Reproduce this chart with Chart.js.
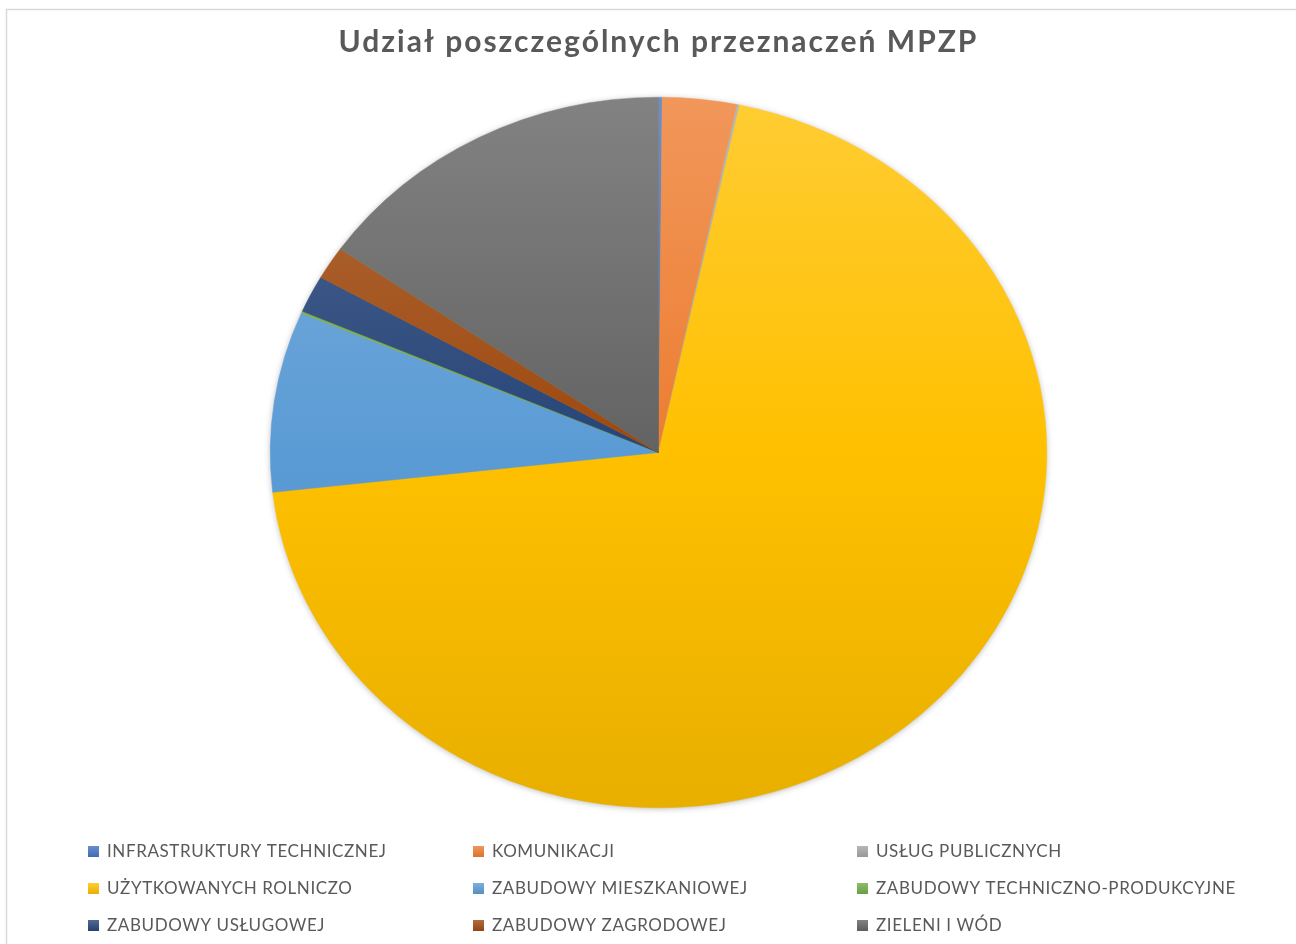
<!DOCTYPE html>
<html>
<head>
<meta charset="utf-8">
<script src="https://cdn.jsdelivr.net/npm/chart.js@4.4.1/dist/chart.umd.min.js"></script>
<style>
  html, body { margin: 0; padding: 0; background: #fff; }
  #wrap { width: 1296px; height: 944px; position: relative; }
</style>
</head>
<body>
<div id="wrap"><canvas id="mpzpChart" width="1296" height="944"></canvas></div>
<script>
// dane (udział w %)
const kategorie = [
    'INFRASTRUKTURY TECHNICZNEJ', 'KOMUNIKACJI', 'USŁUG PUBLICZNYCH',
    'UŻYTKOWANYCH ROLNICZO', 'ZABUDOWY MIESZKANIOWEJ', 'ZABUDOWY TECHNICZNO-PRODUKCYJNE',
    'ZABUDOWY USŁUGOWEJ', 'ZABUDOWY ZAGRODOWEJ', 'ZIELENI I WÓD'
];
const udzialy = [0.15, 3.1, 0.1, 69.9, 8.2, 0.1, 1.7, 1.5, 15.3];
const kolory = ['#4472C4', '#ED7D31', '#A5A5A5', '#FFC000', '#5B9BD5', '#70AD47', '#264478', '#9E480E', '#636363'];

const tytul = 'Udział poszczególnych przeznaczeń MPZP';
const splaszczenie = 355.5 / 388.5; // Excel rysuje elipsę

function mix(hex, target, t) {
    const n = parseInt(hex.slice(1), 16);
    const r = (n >> 16) & 255, g = (n >> 8) & 255, b = n & 255;
    const m = c => Math.round(c + (target - c) * t);
    return `rgb(${m(r)},${m(g)},${m(b)})`;
}

function gradient(context) {
    const chart = context.chart;
    const area = chart.chartArea;
    if (!area) return kolory[context.dataIndex];
    const base = kolory[context.dataIndex];
    const g = chart.ctx.createLinearGradient(0, area.top, 0, area.bottom);
    g.addColorStop(0, mix(base, 255, 0.2));
    g.addColorStop(0.5, base);
    g.addColorStop(1, mix(base, 0, 0.09));
    return g;
}

// ramka wykresu + cień pod elipsą + spłaszczenie
const elipsa = {
    id: 'elipsa',
    beforeDraw(chart) {
        const ctx = chart.ctx;
        ctx.save();
        ctx.strokeStyle = '#d9d9d9';
        ctx.lineWidth = 1.5;
        ctx.strokeRect(6.5, 9.5, 1400, 1000);
        ctx.restore();
        ctx.letterSpacing = '2px'; // tytuł w Excelu jest rozstrzelony
    },
    beforeDatasetsDraw(chart) {
        const ctx = chart.ctx;
        ctx.letterSpacing = '0px';
        const arc = chart.getDatasetMeta(0).data[0];
        if (!arc) return;
        const cx = arc.x, cy = arc.y, r = arc.outerRadius;
        ctx.save();
        ctx.shadowColor = 'rgba(0,0,0,0.35)';
        ctx.shadowBlur = 7;
        ctx.shadowOffsetY = 1;
        ctx.fillStyle = '#e0b000';
        ctx.beginPath();
        ctx.ellipse(cx, cy, r - 1, r * splaszczenie - 1, 0, 0, Math.PI * 2);
        ctx.fill();
        ctx.restore();
        ctx.save();
        ctx.translate(cx, cy);
        ctx.scale(1, splaszczenie);
        ctx.translate(-cx, -cy);
    },
    afterDatasetsDraw(chart) {
        chart.ctx.restore();
    }
};

// legenda w trzech kolumnach jak w Excelu
const legendaSiatka = {
    id: 'legendaSiatka',
    afterDraw(chart) {
        const ctx = chart.ctx;
        const kolX = [88, 473, 857];
        const wierszY = [852, 889, 926];
        ctx.save();
        ctx.font = '17px Lato';
        ctx.letterSpacing = '0.6px';
        ctx.textBaseline = 'middle';
        chart.data.labels.forEach((label, i) => {
            const x = kolX[i % 3];
            const y = wierszY[Math.floor(i / 3)];
            const g = ctx.createLinearGradient(0, y - 6, 0, y + 6);
            g.addColorStop(0, mix(kolory[i], 255, 0.2));
            g.addColorStop(1, mix(kolory[i], 0, 0.1));
            ctx.fillStyle = g;
            ctx.fillRect(x, y - 6, 11, 11);
            ctx.fillStyle = '#595959';
            ctx.fillText(label, x + 19, y);
        });
        ctx.restore();
    }
};

new Chart(document.getElementById('mpzpChart').getContext('2d'), {
    type: 'pie',
    data: {
        labels: kategorie,
        datasets: [{
            data: udzialy,
            backgroundColor: gradient,
            borderColor: gradient,
            borderWidth: 0.5
        }]
    },
    options: {
        responsive: false,
        animation: false,
        events: [],
        layout: { padding: { top: 26, bottom: 103, left: 21, right: 0 } },
        plugins: {
            legend: { display: false },
            tooltip: { enabled: false },
            title: {
                display: true,
                text: tytul,
                color: '#595959',
                font: { family: 'Lato', size: 30, weight: 'bold', lineHeight: 1.1 },
                padding: { top: 0, bottom: 5 }
            }
        }
    },
    plugins: [elipsa, legendaSiatka]
});
</script>
</body>
</html>
